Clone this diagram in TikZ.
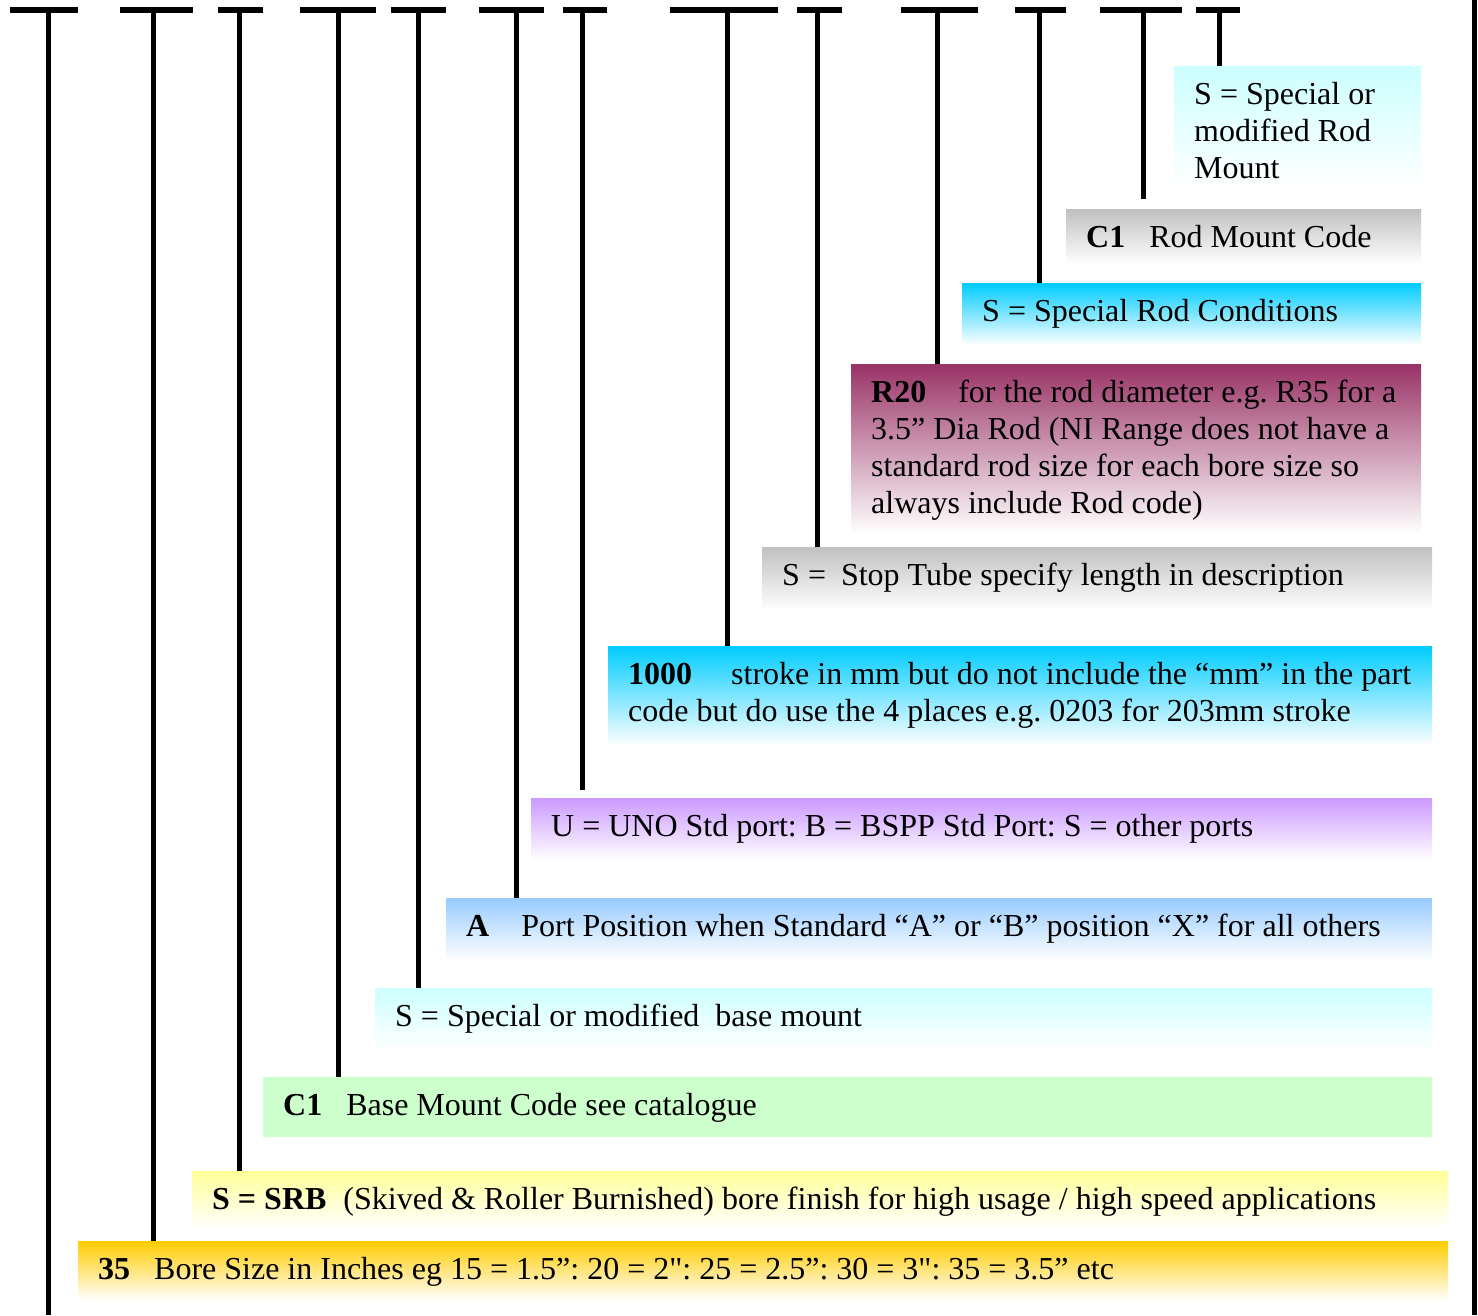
\documentclass[tikz,border=0pt]{standalone}
\usepackage{fontspec}
\setmainfont{Liberation Serif}[Ligatures=TeXOff]
\frenchspacing
\newcommand\tightspaces{\spaceskip=8pt plus 1pt minus 1.5pt\relax}
\definecolor{aqualt}{HTML}{CCFFFF}
\definecolor{greyb}{HTML}{C0C0C0}
\definecolor{skyc}{HTML}{00CCFF}
\definecolor{plum}{HTML}{993366}
\definecolor{lav}{HTML}{CC99FF}
\definecolor{paleblue}{HTML}{99CCFF}
\definecolor{mint}{HTML}{CCFFCC}
\definecolor{lemon}{HTML}{FFFF99}
\definecolor{gold}{HTML}{FFCC00}
\begin{document}
\begin{tikzpicture}[x=1pt,y=-1pt,
  bar/.style={line width=6pt},
  stem/.style={line width=5pt},
  code/.style={anchor=north west,inner xsep=20pt,inner ysep=0pt,text height=38pt,
    align=left,font=\fontsize{32}{37}\selectfont,execute at begin node=\tightspaces},
  fade/.style={code,top color=#1,bottom color=white}]
\useasboundingbox (0,0) rectangle (1478,1315);

\node[fade=aqualt,text width=207pt,text depth=83pt] (rodspec) at (1174,66)
  {S = Special or\\modified Rod\\Mount};
\node[fade=greyb,text width=315pt,text depth=17pt] (rodmount) at (1066,209)
  {\textbf{C1}\hspace{24pt}Rod Mount Code};
\node[fade=skyc,text width=419pt,text depth=24pt] (rodcond) at (962,283)
  {S = Special Rod Conditions};
\node[fade=plum,text width=530pt,text depth=131pt] (roddia) at (851,364)
  {\textbf{R20}\hspace{32pt}for the rod diameter e.g. R35 for a\\3.5” Dia Rod (NI Range does not have a\\standard rod size for each bore size so\\always include Rod code)};
\node[fade=greyb,text width=630pt,text depth=25pt] (stoptube) at (762,547)
  {S =\hspace{15pt}Stop Tube specify length in description};
\node[fade=skyc,text width=784pt,text depth=61pt] (stroke) at (608,646)
  {\textbf{1000}\hspace{39pt}stroke in mm but do not include the “mm” in the part\\code but do use the 4 places e.g. 0203 for 203mm stroke};
\node[fade=lav,text width=861pt,text depth=24pt] (ports) at (531,798)
  {U = UNO Std port: B = BSPP Std Port: S = other ports};
\node[fade=paleblue,text width=946pt,text depth=24pt] (portpos) at (446,898)
  {\textbf{A}\hspace{32pt}Port Position when Standard “A” or “B” position “X” for all others};
\node[fade=aqualt,text width=1017pt,text depth=23pt] (basespec) at (375,988)
  {S = Special or modified\ \ base mount};
\node[code,fill=mint,text width=1129pt,text depth=22pt] (basemount) at (263,1077)
  {\textbf{C1}\hspace{24pt}Base Mount Code see catalogue};
\node[fade=lemon,text width=1216pt,text depth=19pt] (borefin) at (192,1171)
  {\textbf{S = SRB}\hspace{17pt}(Skived \& Roller Burnished) bore finish for high usage / high speed applications};
\node[fade=gold,text width=1330pt,text depth=21pt] (boresize) at (78,1241)
  {\textbf{35}\hspace{24pt}Bore Size in Inches eg 15 = 1.5”: 20 = 2": 25 = 2.5”: 30 = 3": 35 = 3.5” etc};

\coordinate (t1) at (48,10);
\coordinate (t2) at (153,10);
\coordinate (t3) at (239,10);
\coordinate (t4) at (338,10);
\coordinate (t5) at (418,10);
\coordinate (t6) at (516,10);
\coordinate (t7) at (582,10);
\coordinate (t8) at (727,10);
\coordinate (t9) at (817,10);
\coordinate (t10) at (937,10);
\coordinate (t11) at (1039,10);
\coordinate (t12) at (1143,10);
\coordinate (t13) at (1219,10);
\coordinate (bottom) at (48,1315);

\draw[bar] (10,10) -- (78,10);
\draw[bar] (120,10) -- (193,10);
\draw[bar] (218,10) -- (263,10);
\draw[bar] (300,10) -- (376,10);
\draw[bar] (391,10) -- (446,10);
\draw[bar] (479,10) -- (544,10);
\draw[bar] (563,10) -- (607,10);
\draw[bar] (670,10) -- (778,10);
\draw[bar] (797,10) -- (842,10);
\draw[bar] (901,10) -- (978,10);
\draw[bar] (1015,10) -- (1066,10);
\draw[bar] (1100,10) -- (1182,10);
\draw[bar] (1196,10) -- (1240,10);

\draw[stem] (t1) -- (bottom);
\draw[stem] (t2) -- (t2 |- boresize.north);
\draw[stem] (t3) -- (t3 |- borefin.north);
\draw[stem] (t4) -- (t4 |- basemount.north);
\draw[stem] (t5) -- (t5 |- basespec.north);
\draw[stem] (t6) -- (t6 |- portpos.north);
\draw[stem,shorten >=8pt] (t7) -- (t7 |- ports.north);
\draw[stem] (t8) -- (t8 |- stroke.north);
\draw[stem] (t9) -- (t9 |- stoptube.north);
\draw[stem] (t10) -- (t10 |- roddia.north);
\draw[stem] (t11) -- (t11 |- rodcond.north);
\draw[stem,shorten >=10pt] (t12) -- (t12 |- rodmount.north);
\draw[stem] (t13) -- (t13 |- rodspec.north);

\draw[stem] (1474,0) -- (1474,1315);
\end{tikzpicture}
\end{document}
